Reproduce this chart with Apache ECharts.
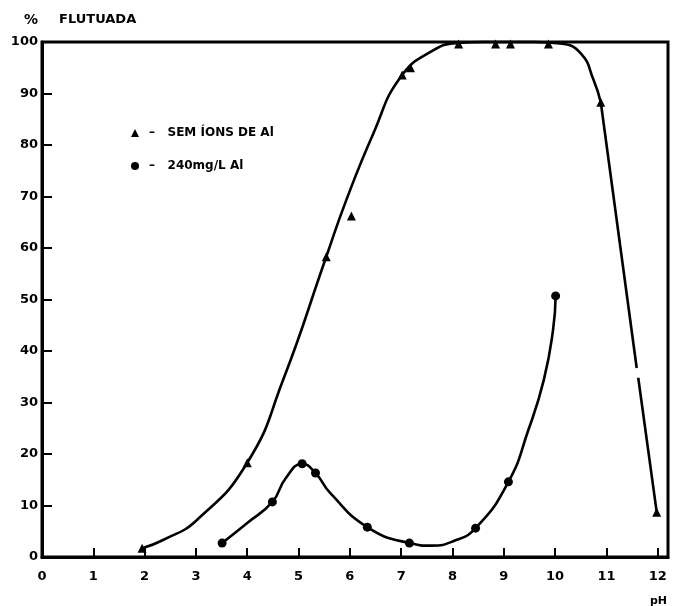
<!DOCTYPE html>
<html>
<head>
<meta charset="utf-8">
<script src="https://cdn.jsdelivr.net/npm/echarts@6/dist/echarts.min.js"></script>
<style>
  html, body { margin: 0; padding: 0; background: #fff; }
  #chart { width: 679px; height: 606px; }
</style>
</head>
<body>
<div id="chart"></div>
<script>
// Floated fraction (%) versus pH: without Al ions and with 240 mg/L Al

// Tick labels
const xTickLabels = [0, 1, 2, 3, 4, 5, 6, 7, 8, 9, 10, 11, 12];
const yTickLabels = [0, 10, 20, 30, 40, 50, 60, 70, 80, 90, 100];

// Series names
const seriesNames = ['SEM ÍONS DE Al', '240mg/L Al'];

// Measured points [pH, % flutuada]
const semIonsPoints = [
  [1.95, 1.7], [4.0, 18.3], [5.54, 58.3], [6.03, 66.2], [7.02, 93.6], [7.18, 95.0],
  [8.12, 99.6], [8.84, 99.6], [9.13, 99.6], [9.87, 99.6], [10.89, 88.3], [11.98, 8.7]
];
const comAlPoints = [
  [3.51, 2.7], [4.49, 10.7], [5.07, 18.1], [5.33, 16.3], [6.34, 5.8],
  [7.16, 2.7], [8.45, 5.6], [9.09, 14.6], [10.01, 50.7]
];

// Hand-fitted curves through the points
const semIonsCurve = [
  [1.95, 1.7], [2.36, 3.3], [3.02, 7.2], [4.0, 18.3], [4.7, 34.4], [5.54, 58.3],
  [5.93, 69.3], [6.46, 82.3], [6.99, 93.2], [7.63, 98.4], [8.1, 99.8], [8.6, 100],
  [9.6, 100], [10.1, 99.7], [10.5, 97.8], [10.75, 92.6], [10.89, 88.3]
];
const semIonsTailUpper = [[10.89, 88.3], [11.59, 36.7]];
const semIonsTailLower = [[11.62, 34.8], [11.98, 8.7]];
const comAlCurve = [
  [3.51, 2.7], [4.0, 6.6], [4.49, 10.7], [4.75, 15.3], [5.07, 18.1], [5.33, 16.3],
  [5.62, 12.4], [6.34, 5.8], [7.16, 2.7], [7.6, 2.2], [8.0, 3.0], [8.45, 5.6],
  [9.09, 14.6], [9.48, 24.7], [9.78, 34.4], [9.96, 44.1], [10.01, 50.7]
];

const INK = '#000';
const FONT = 'DejaVu Sans';

const chart = echarts.init(document.getElementById('chart'), null, { renderer: 'canvas' });

function curveSeries(name, data, smooth) {
  return {
    name: name,
    type: 'line',
    data: data,
    smooth: smooth,
    showSymbol: false,
    symbol: 'none',
    clip: false,
    silent: true,
    lineStyle: { color: INK, width: 2.6 },
    z: 2
  };
}

chart.setOption({
  animation: false,
  backgroundColor: '#fff',
  title: [
    {
      text: '{p|%}{t|FLUTUADA}',
      left: 19, top: 8,
      textStyle: {
        rich: {
          p: { fontFamily: FONT, fontWeight: 'bold', fontSize: 14, color: INK, padding: [0, 21, 0, 0] },
          t: { fontFamily: FONT, fontWeight: 'bold', fontSize: 13, color: INK }
        }
      }
    },
    {
      text: 'pH',
      left: 645, top: 591,
      textStyle: { fontFamily: FONT, fontWeight: 'bold', fontSize: 11, color: INK }
    }
  ],
  legend: {
    data: [
      { name: seriesNames[0], icon: 'triangle', itemStyle: { color: INK, opacity: 1 } },
      { name: seriesNames[1], icon: 'circle', itemStyle: { color: INK, opacity: 1 } }
    ],
    orient: 'vertical',
    left: 126, top: 121,
    itemWidth: 8, itemHeight: 8,
    itemGap: 19,
    selectedMode: false,
    formatter: name => '–   ' + name,
    textStyle: {
      fontFamily: FONT, fontWeight: 'bold', fontSize: 12, color: INK,
      lineHeight: 14, padding: [0, 0, 0, 5]
    }
  },
  grid: {
    left: 42, right: 11, top: 42, bottom: 49,
    show: true, borderColor: INK, borderWidth: 3, backgroundColor: 'transparent'
  },
  xAxis: {
    type: 'value',
    min: 0, max: 12.2, interval: 1,
    splitLine: { show: false },
    axisLine: { onZero: false, lineStyle: { color: INK, width: 3 } },
    axisTick: { inside: true, length: 9, lineStyle: { color: INK, width: 2 } },
    axisLabel: {
      margin: 13,
      fontFamily: FONT, fontWeight: 'bold', fontSize: 13, color: INK,
      formatter: v => (xTickLabels.includes(v) ? String(v) : '')
    }
  },
  yAxis: {
    type: 'value',
    min: 0, max: 100, interval: 10,
    splitLine: { show: false },
    axisLine: { onZero: false, lineStyle: { color: INK, width: 3 } },
    axisTick: { inside: true, length: 10, lineStyle: { color: INK, width: 2 } },
    axisLabel: {
      margin: 4,
      fontFamily: FONT, fontWeight: 'bold', fontSize: 13, color: INK,
      formatter: v => (yTickLabels.includes(v) ? String(v) : '')
    }
  },
  series: [
    curveSeries('curve-sem', semIonsCurve, 0.5),
    curveSeries('tail-sem-a', semIonsTailUpper, false),
    curveSeries('tail-sem-b', semIonsTailLower, false),
    curveSeries('curve-al', comAlCurve, 0.5),
    {
      name: seriesNames[0],
      type: 'scatter',
      data: semIonsPoints,
      symbol: 'triangle',
      symbolSize: 9,
      itemStyle: { color: INK, opacity: 1 },
      clip: false,
      z: 4
    },
    {
      name: seriesNames[1],
      type: 'scatter',
      data: comAlPoints,
      symbol: 'circle',
      symbolSize: 9,
      itemStyle: { color: INK, opacity: 1 },
      clip: false,
      z: 4
    }
  ]
});
</script>
</body>
</html>
